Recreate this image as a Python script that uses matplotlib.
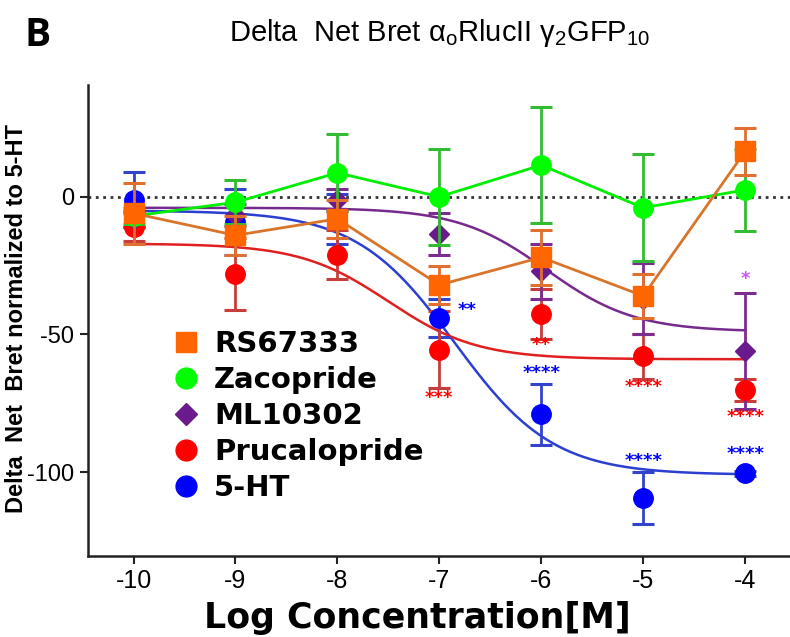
import numpy as np
import matplotlib.pyplot as plt
from matplotlib.lines import Line2D

plt.rcParams['mathtext.fontset'] = 'custom'
plt.rcParams['mathtext.rm'] = 'Liberation Sans'
plt.rcParams['mathtext.it'] = 'Liberation Sans'

log_conc = [-10, -9, -8, -7, -6, -5, -4]

rs_mean = [-6, -14, -8, -32, -22, -36, 16.5]
rs_sem = [11, 7, 7, 7, 10, 8, 8.5]
zac_mean = [-7, -2, 8.7, 0, 11.5, -4, 2.5]
zac_sem = [3, 8, 14, 17.5, 21, 19.5, 15]
ml_mean = [-8, -6.5, -1, -13.5, -27, -37, -56]
ml_sem = [3, 4, 4, 7.5, 10, 13, 21]
pru_mean = [-11, -28, -21, -55.5, -42.5, -58, -70]
pru_sem = [5, 13, 9, 14, 9, 8, 4]
ht_mean = [-1, -9, -8, -44, -79, -109.5, -100.5]
ht_sem = [10, 12, 9, 7, 11, 9.5, 1]

# dose-response fits: top, bottom, logEC50, hill slope
ht_fit = [-5, -101, -6.85, 0.9]
pru_fit = [-17, -59, -7.5, 1.0]
ml_fit = [-4, -49, -5.95, 1.0]

# significance marks
star_x = [-6.73, -7, -6, -6, -5, -5, -4, -4, -4]
star_y = [-41, -73, -54, -64, -69, -96, -30, -80, -93.5]
star_txt = ['**', '***', '**', '****', '****', '****', '*', '****', '****']
star_col = ['blue', 'red', 'red', 'blue', 'red', 'blue', '#cc55ee', 'red', 'blue']


def sigmoid(x, p):
    top, bottom, ec50, hill = p
    return bottom + (top - bottom) / (1 + 10 ** ((x - ec50) * hill))


fig = plt.figure(figsize=(7.9, 6.37), dpi=100)
ax = fig.add_axes([0.111, 0.127, 0.889, 0.74])

xx = np.linspace(-10, -4, 300)

# 5-HT
ax.plot(xx, sigmoid(xx, ht_fit), color='#2b3fd0', lw=1.8, zorder=2)
ax.errorbar(log_conc, ht_mean, yerr=ht_sem, fmt='o', color='blue', ms=14,
            ecolor='#3344cc', elinewidth=2, capsize=8, capthick=2.2, zorder=3)
# Prucalopride
ax.plot(xx, sigmoid(xx, pru_fit), color='#e02020', lw=1.8, zorder=2)
ax.errorbar(log_conc, pru_mean, yerr=pru_sem, fmt='o', color='red', ms=14,
            ecolor='#c83c3c', elinewidth=2, capsize=8, capthick=2.2, zorder=3)
# ML10302
ax.plot(xx, sigmoid(xx, ml_fit), color='#762a8e', lw=1.8, zorder=2)
ax.errorbar(log_conc, ml_mean, yerr=ml_sem, fmt='D', color='#6a1a8c', ms=10,
            ecolor='#7b2c8f', elinewidth=2, capsize=8, capthick=2.2, zorder=3)
# Zacopride
ax.errorbar(log_conc, zac_mean, yerr=zac_sem, fmt='o-', color='#00ee00', ms=14,
            mfc='#00ff00', mec='#00ff00', lw=2,
            ecolor='#33bb33', elinewidth=2, capsize=8, capthick=2.2, zorder=4)
# RS67333
ax.errorbar(log_conc, rs_mean, yerr=rs_sem, fmt='s-', color='#d9742b', ms=14,
            mfc='#ff6600', mec='#ff6600', lw=2,
            ecolor='#e07030', elinewidth=2, capsize=8, capthick=2.2, zorder=5)

ax.axhline(0, color='#333333', ls=':', lw=2, zorder=1)

for x, y, t, c in zip(star_x, star_y, star_txt, star_col):
    ax.text(x, y, t, color=c, ha='center', va='center', fontsize=13,
            fontweight='bold', zorder=6)

ax.set_xlim(-10.45, -3.56)
ax.set_ylim(-130.5, 40.7)
ax.set_xticks(log_conc)
ax.set_xticklabels([str(v) for v in log_conc], family='Liberation Sans', fontsize=18)
ax.set_yticks([0, -50, -100])
ax.set_yticklabels(['0', '-50', '-100'], family='Liberation Sans', fontsize=17)
for s in ['top', 'right']:
    ax.spines[s].set_visible(False)
for s in ['left', 'bottom']:
    ax.spines[s].set_linewidth(1.8)
    ax.spines[s].set_color('#222222')
ax.tick_params(length=6, width=1.5, color='#222222')

ax.set_xlabel('Log Concentration[M]', family='DejaVu Sans', fontweight='bold', fontsize=25)
ax.xaxis.set_label_coords(0.47, -0.095)
fig.text(0.021, 0.5, 'Delta  Net  Bret normalized to 5-HT', rotation=90, ha='center', va='center',
         family='Liberation Sans', fontweight='bold', fontsize=17)

fig.text(0.047, 0.945, 'B', family='Open Sans', fontweight='bold', fontsize=28, ha='center', va='center')
fig.text(0.556, 0.948, r'Delta  Net Bret α$_\mathrm{o}$RlucII γ$_2$GFP$_{10}$',
         family='Liberation Sans', fontsize=21, ha='center', va='center')

handles = [
    Line2D([], [], ls='none', marker='s', ms=15, color='#ff6600'),
    Line2D([], [], ls='none', marker='o', ms=15, color='#00ff00'),
    Line2D([], [], ls='none', marker='D', ms=11, color='#6a1a8c'),
    Line2D([], [], ls='none', marker='o', ms=15, color='red'),
    Line2D([], [], ls='none', marker='o', ms=15, color='blue'),
]
labels = ['RS67333', 'Zacopride', 'ML10302', 'Prucalopride', '5-HT']
leg = ax.legend(handles, labels, loc='center left', bbox_to_anchor=(0.097, 0.297),
                frameon=False, borderpad=0, handlelength=1.1, handletextpad=0.4,
                labelspacing=0.28, prop={'family': 'DejaVu Sans', 'weight': 'bold', 'size': 21})

fig.savefig('out.png', dpi=100)
